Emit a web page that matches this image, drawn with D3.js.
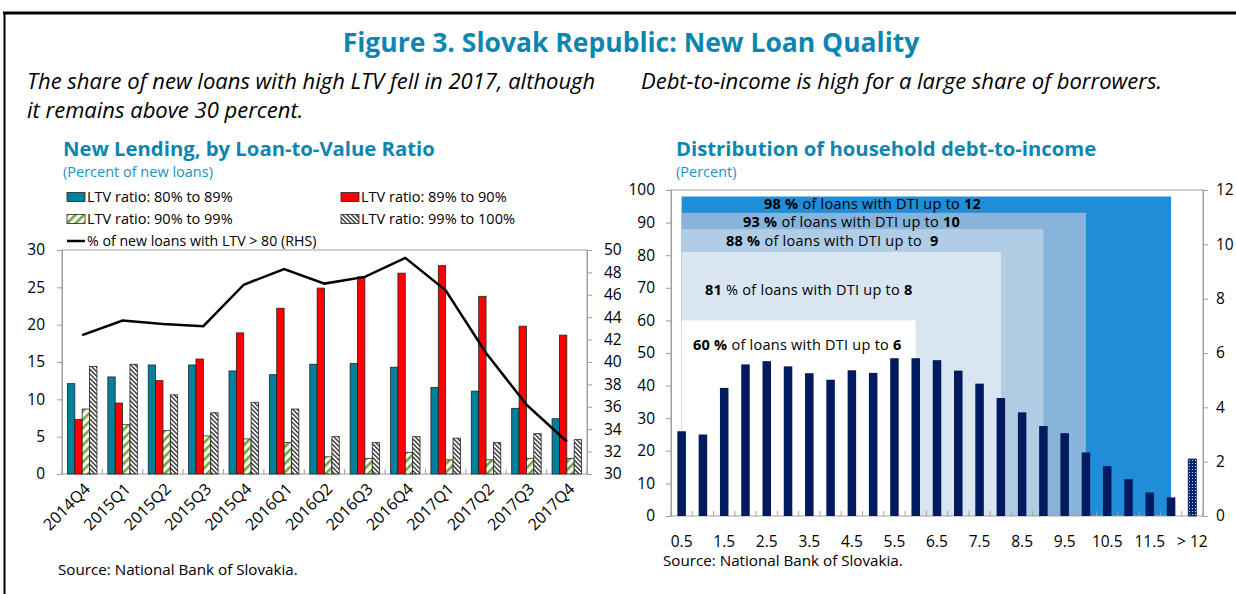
<!DOCTYPE html>
<html>
<head>
<meta charset="utf-8">
<script src="https://cdn.jsdelivr.net/npm/d3@7"></script>
<style>
  body { margin: 0; background: #fff; }
  svg { display: block; font-family: "Open Sans", sans-serif; }
</style>
</head>
<body>
<svg id="chart" width="1236" height="594"></svg>
<script>
// ---- data ----
const quarters = ["2014Q4", "2015Q1", "2015Q2", "2015Q3", "2015Q4", "2016Q1", "2016Q2",
  "2016Q3", "2016Q4", "2017Q1", "2017Q2", "2017Q3", "2017Q4"];
const ltv80to89 = [12.1, 13.0, 14.6, 14.6, 13.8, 13.3, 14.7, 14.8, 14.3, 11.6, 11.1, 8.8, 7.4];
const ltv89to90 = [7.3, 9.5, 12.5, 15.4, 18.9, 22.2, 24.9, 26.4, 26.9, 27.9, 23.8, 19.8, 18.6];
const ltv90to99 = [8.7, 6.6, 5.8, 5.1, 4.7, 4.2, 2.3, 2.1, 2.9, 1.9, 1.9, 2.1, 2.1];
const ltv99to100 = [14.4, 14.7, 10.6, 8.2, 9.6, 8.7, 5.0, 4.2, 5.0, 4.8, 4.2, 5.4, 4.6];
const shareAbove80 = [42.4, 43.7, 43.4, 43.2, 46.9, 48.3, 47.0, 47.6, 49.3, 46.4, 40.8, 36.2, 32.9];
const ltvLeftTicks = [0, 5, 10, 15, 20, 25, 30];
const ltvRightTicks = [30, 32, 34, 36, 38, 40, 42, 44, 46, 48, 50];

const dtiCats = ["0.5", "1", "1.5", "2", "2.5", "3", "3.5", "4", "4.5", "5", "5.5", "6",
  "6.5", "7", "7.5", "8", "8.5", "9", "9.5", "10", "10.5", "11", "11.5", "12", "> 12"];
const dtiShare = [26, 25, 39.3, 46.5, 47.5, 45.9, 43.8, 41.8, 44.7, 43.9, 48.4, 48.4,
  47.8, 44.6, 40.6, 36.2, 31.8, 27.6, 25.4, 19.5, 15.3, 11.3, 7.2, 5.7];
const dtiAbove12 = 2.1; // right axis
const dtiLeftTicks = [0, 10, 20, 30, 40, 50, 60, 70, 80, 90, 100];
const dtiRightTicks = [0, 2, 4, 6, 8, 10, 12];
const dtiLabelled = ["0.5", "1.5", "2.5", "3.5", "4.5", "5.5", "6.5", "7.5", "8.5", "9.5", "10.5", "11.5", "> 12"];
// cumulative share of loans up to a DTI level
const cumPct = [98, 93, 88, 81, 60];
const cumUpTo = ["12", "10", "9", "8", "6"];

const blue = "#0c86b1";
const svg = d3.select("#chart");

// frame
svg.append("line").attr("x1", 3).attr("x2", 1236).attr("y1", 13).attr("y2", 13)
  .attr("stroke", "#000").attr("stroke-width", 3);
svg.append("line").attr("x1", 4.5).attr("x2", 4.5).attr("y1", 12).attr("y2", 594)
  .attr("stroke", "#000").attr("stroke-width", 2);

// headings
svg.append("text").attr("x", 631).attr("y", 52).attr("text-anchor", "middle")
  .attr("font-size", 26.5).attr("font-weight", "bold").attr("fill", blue)
  .text("Figure 3. Slovak Republic: New Loan Quality");
svg.append("text").attr("x", 27).attr("y", 89).attr("font-size", 22).attr("font-style", "italic")
  .text("The share of new loans with high LTV fell in 2017, although");
svg.append("text").attr("x", 27).attr("y", 118).attr("font-size", 22).attr("font-style", "italic")
  .text("it remains above 30 percent.");
svg.append("text").attr("x", 641).attr("y", 89).attr("font-size", 22).attr("font-style", "italic")
  .text("Debt-to-income is high for a large share of borrowers.");

svg.append("text").attr("x", 63).attr("y", 156).attr("font-size", 20.3).attr("font-weight", "bold")
  .attr("fill", blue).text("New Lending, by Loan-to-Value Ratio");
svg.append("text").attr("x", 63).attr("y", 177).attr("font-size", 14.5).attr("fill", "#1a93c4")
  .text("(Percent of new loans)");
svg.append("text").attr("x", 676).attr("y", 156).attr("font-size", 20.3).attr("font-weight", "bold")
  .attr("fill", blue).text("Distribution of household debt-to-income");
svg.append("text").attr("x", 676).attr("y", 177).attr("font-size", 14.5).attr("fill", "#1a93c4")
  .text("(Percent)");

// patterns
const defs = svg.append("defs");
const pg = defs.append("pattern").attr("id", "greenHatch").attr("patternUnits", "userSpaceOnUse")
  .attr("width", 6).attr("height", 6).attr("patternTransform", "rotate(45)");
pg.append("rect").attr("width", 6).attr("height", 6).attr("fill", "#fff");
pg.append("rect").attr("width", 2.6).attr("height", 6).attr("fill", "#6fa93a");
const pb = defs.append("pattern").attr("id", "blackHatch").attr("patternUnits", "userSpaceOnUse")
  .attr("width", 3.2).attr("height", 3.2).attr("patternTransform", "rotate(-45)");
pb.append("rect").attr("width", 3.2).attr("height", 3.2).attr("fill", "#fff");
pb.append("rect").attr("width", 1.4).attr("height", 3.2).attr("fill", "#333");
const pd = defs.append("pattern").attr("id", "navyDots").attr("patternUnits", "userSpaceOnUse")
  .attr("width", 3).attr("height", 3);
pd.append("rect").attr("width", 3).attr("height", 3).attr("fill", "#0a2468");
pd.append("rect").attr("x", 1).attr("y", 1).attr("width", 1).attr("height", 1).attr("fill", "#c8d2ea");

const axisGrey = "#a0a0a0";
const tickFont = 15.5;

function styleAxis(g) {
  g.select(".domain").attr("stroke", axisGrey);
  g.selectAll(".tick line").attr("stroke", axisGrey);
  g.selectAll(".tick text").attr("font-size", tickFont).attr("fill", "#000")
    .attr("font-family", "Open Sans");
}

// ================= left chart =================
const L = { x0: 62, x1: 587, top: 250, bottom: 474 };
const xq = d3.scaleBand().domain(quarters).range([L.x0, L.x1]).paddingInner(0.27).paddingOuter(0.135);
const seriesNames = ["a", "b", "c", "d"];
const xs = d3.scaleBand().domain(seriesNames).range([0, xq.bandwidth()]);
const yL = d3.scaleLinear().domain([0, 30]).range([L.bottom, L.top]);
const yR = d3.scaleLinear().domain([30, 50]).range([L.bottom, L.top]);

const leftG = svg.append("g");
leftG.append("rect").attr("x", L.x0).attr("y", L.top).attr("width", L.x1 - L.x0)
  .attr("height", L.bottom - L.top).attr("fill", "none").attr("stroke", axisGrey);

const ltvSeries = [
  { key: "a", values: ltv80to89, fill: "#00809a" },
  { key: "b", values: ltv89to90, fill: "#ff0000" },
  { key: "c", values: ltv90to99, fill: "url(#greenHatch)" },
  { key: "d", values: ltv99to100, fill: "url(#blackHatch)" }
];
ltvSeries.forEach(s => {
  leftG.selectAll(null).data(quarters).enter().append("rect")
    .attr("x", q => xq(q) + xs(s.key))
    .attr("y", (q, i) => yL(s.values[i]))
    .attr("width", xs.bandwidth())
    .attr("height", (q, i) => yL(0) - yL(s.values[i]))
    .attr("fill", s.fill)
    .attr("stroke", "#222").attr("stroke-width", 0.8);
});

const line = d3.line()
  .x((d, i) => xq(quarters[i]) + xq.bandwidth() / 2)
  .y(d => yR(d));
leftG.append("path").datum(shareAbove80).attr("d", line)
  .attr("fill", "none").attr("stroke", "#000").attr("stroke-width", 2.5);

const gAxL = leftG.append("g").attr("transform", `translate(${L.x0},0)`)
  .call(d3.axisLeft(yL).tickValues(ltvLeftTicks).tickSize(5).tickPadding(12));
const gAxR = leftG.append("g").attr("transform", `translate(${L.x1},0)`)
  .call(d3.axisRight(yR).tickValues(ltvRightTicks).tickSize(5).tickPadding(12));
styleAxis(gAxL);
styleAxis(gAxR);

// bottom ticks between quarters
const stepQ = xq.step();
leftG.selectAll(null).data(d3.range(quarters.length + 1)).enter().append("line")
  .attr("x1", i => L.x0 + i * stepQ).attr("x2", i => L.x0 + i * stepQ)
  .attr("y1", L.bottom).attr("y2", L.bottom - 5).attr("stroke", axisGrey);
leftG.selectAll(null).data(quarters).enter().append("text")
  .attr("transform", q => `translate(${xq(q) + xq.bandwidth() / 2 + 9},${L.bottom + 16}) rotate(-45)`)
  .attr("text-anchor", "end").attr("font-size", 16).text(q => q);

// legend
const legendItems = [
  { label: "LTV ratio: 80% to 89%", fill: "#00809a", x: 67, y: 197 },
  { label: "LTV ratio: 89% to 90%", fill: "#ff0000", x: 341, y: 197 },
  { label: "LTV ratio: 90% to 99%", fill: "url(#greenHatch)", x: 67, y: 219 },
  { label: "LTV ratio: 99% to 100%", fill: "url(#blackHatch)", x: 341, y: 219 }
];
legendItems.forEach(d => {
  leftG.append("rect").attr("x", d.x).attr("y", d.y - 4.5).attr("width", 18).attr("height", 9)
    .attr("fill", d.fill).attr("stroke", "#222").attr("stroke-width", 0.8);
  leftG.append("text").attr("x", d.x + 20).attr("y", d.y).attr("dy", "0.35em")
    .attr("font-size", 14.5).text(d.label);
});
leftG.append("line").attr("x1", 67).attr("x2", 85).attr("y1", 241).attr("y2", 241)
  .attr("stroke", "#000").attr("stroke-width", 2.5);
leftG.append("text").attr("x", 87).attr("y", 241).attr("dy", "0.35em").attr("font-size", 14.2)
  .text("% of new loans with LTV > 80 (RHS)");

leftG.append("text").attr("x", 58).attr("y", 575).attr("font-size", 15.2)
  .text("Source: National Bank of Slovakia.");

// ================= right chart =================
const R = { x0: 671, x1: 1203, top: 190, bottom: 516 };
const xd = d3.scaleBand().domain(dtiCats).range([R.x0, R.x1]).paddingInner(0.6).paddingOuter(0.3);
const yD = d3.scaleLinear().domain([0, 100]).range([R.bottom, R.top]);
const yD2 = d3.scaleLinear().domain([0, 12]).range([R.bottom, R.top]);
const cx = c => xd(c) + xd.bandwidth() / 2;

const rightG = svg.append("g");
const shadeFill = ["#1f8dd7", "#87b4da", "#b1cde6", "#d9e6f2", "#ffffff"];
rightG.selectAll(null).data(cumPct).enter().append("rect")
  .attr("x", cx(dtiCats[0]))
  .attr("y", d => yD(d))
  .attr("width", (d, i) => cx(cumUpTo[i]) - cx(dtiCats[0]))
  .attr("height", d => yD(0) - yD(d))
  .attr("fill", (d, i) => shadeFill[i]);

rightG.append("rect").attr("x", R.x0).attr("y", R.top).attr("width", R.x1 - R.x0)
  .attr("height", R.bottom - R.top).attr("fill", "none").attr("stroke", axisGrey);

rightG.selectAll(null).data(dtiShare).enter().append("rect")
  .attr("x", (d, i) => xd(dtiCats[i]))
  .attr("y", d => yD(d))
  .attr("width", xd.bandwidth())
  .attr("height", d => yD(0) - yD(d))
  .attr("fill", "#021a5e");
rightG.append("rect")
  .attr("x", xd("> 12")).attr("y", yD2(dtiAbove12))
  .attr("width", xd.bandwidth()).attr("height", yD2(0) - yD2(dtiAbove12))
  .attr("fill", "url(#navyDots)").attr("stroke", "#0a2468").attr("stroke-width", 0.6);

// annotations on the shaded bands
const annot = [
  { pct: "98 %", upTo: "12", x: 764, y: 203.5, sep: " " },
  { pct: "93 %", upTo: "10", x: 743, y: 221.5, sep: " " },
  { pct: "88 %", upTo: "9", x: 726, y: 241, sep: "  " },
  { pct: "81", upTo: "8", x: 705, y: 290, sep: " ", rest: " % of loans with DTI up to" },
  { pct: "60 %", upTo: "6", x: 693, y: 345, sep: " " }
];
annot.forEach(a => {
  const t = rightG.append("text").attr("x", a.x).attr("y", a.y).attr("dy", "0.35em")
    .attr("font-size", 14.5).attr("letter-spacing", 0.25).style("white-space", "pre");
  t.append("tspan").attr("font-weight", "bold").text(a.pct);
  t.append("tspan").text((a.rest || " of loans with DTI up to") + a.sep);
  t.append("tspan").attr("font-weight", "bold").text(a.upTo);
});

const gAxD = rightG.append("g").attr("transform", `translate(${R.x0},0)`)
  .call(d3.axisLeft(yD).tickValues(dtiLeftTicks).tickSize(5).tickPadding(11));
const gAxD2 = rightG.append("g").attr("transform", `translate(${R.x1},0)`)
  .call(d3.axisRight(yD2).tickValues(dtiRightTicks).tickSize(5).tickPadding(8));
styleAxis(gAxD);
styleAxis(gAxD2);

const stepD = xd.step();
rightG.selectAll(null).data(d3.range(dtiCats.length + 1)).enter().append("line")
  .attr("x1", i => R.x0 + i * stepD).attr("x2", i => R.x0 + i * stepD)
  .attr("y1", R.bottom).attr("y2", R.bottom - 5).attr("stroke", axisGrey);
rightG.selectAll(null).data(dtiLabelled).enter().append("text")
  .attr("x", c => cx(c)).attr("y", 547).attr("text-anchor", "middle")
  .attr("font-size", tickFont).text(c => c);

rightG.append("text").attr("x", 663).attr("y", 566).attr("font-size", 15.2)
  .text("Source: National Bank of Slovakia.");
</script>
</body>
</html>
